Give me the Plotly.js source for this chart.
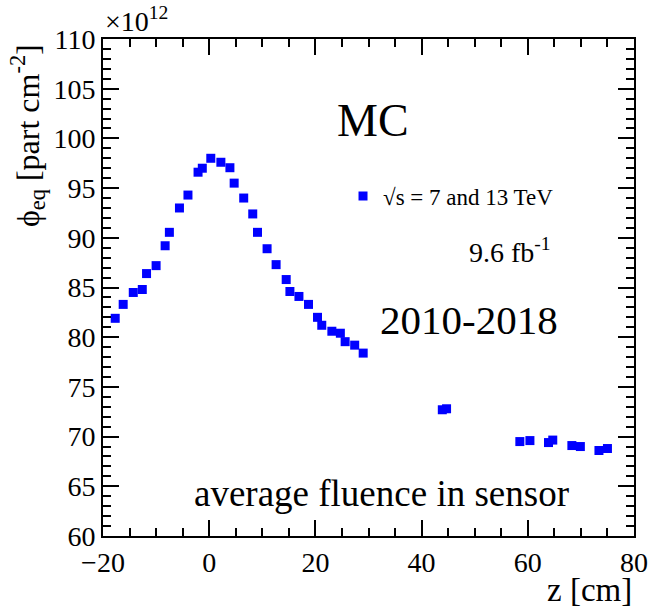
<!DOCTYPE html>
<html>
<head>
<meta charset="utf-8">
<script src="https://cdn.plot.ly/plotly-3.0.1.min.js"></script>
<style>html,body{margin:0;padding:0;background:#fff;}#chart{width:648px;height:609px;}</style>
</head>
<body>
<div id="chart"></div>
<script>
// z position [cm]
const zPos = [-17.7, -16.2, -14.3, -12.6, -11.8, -10.0, -8.3, -7.5, -5.6, -4.0, -2.1, -1.3, 0.3, 2.2, 3.9, 4.7, 6.5, 8.2, 9.1, 10.9, 12.6, 14.5, 15.2, 16.9, 18.7, 20.4, 21.2, 23.1, 24.7, 25.6, 27.4, 29.0, 43.9, 44.7, 58.5, 60.4, 63.9, 64.7, 68.3, 69.9, 73.4, 75.0];
// phi_eq [x10^12 part cm^-2]
const phiEq = [81.9, 83.3, 84.5, 84.8, 86.4, 87.2, 89.2, 90.55, 93.0, 94.3, 96.6, 97.0, 98.0, 97.6, 97.05, 95.5, 94.0, 92.4, 90.55, 88.9, 87.3, 85.8, 84.6, 84.1, 83.3, 82.0, 81.2, 80.6, 80.4, 79.55, 79.2, 78.4, 72.7, 72.8, 69.5, 69.6, 69.4, 69.65, 69.1, 69.0, 68.6, 68.8];
const seriesName = "√s = 7 and 13 TeV";
const xTickVals = [-20, 0, 20, 40, 60, 80];
const xTickText = ["\u221220", "0", "20", "40", "60", "80"];
const yTickVals = [60, 65, 70, 75, 80, 85, 90, 95, 100, 105, 110];

const serif = "Liberation Serif";

const trace = {
  x: zPos, y: phiEq, type: "scatter", mode: "markers", name: seriesName,
  marker: {symbol: "square", size: 9, color: "#0000ff"},
  showlegend: true
};

const axisCommon = {
  showline: true, linewidth: 2, linecolor: "#000", mirror: "allticks",
  ticks: "inside", tickwidth: 2, tickcolor: "#000",
  showgrid: false, zeroline: false,
  tickfont: {family: serif, size: 28, color: "#000"}
};

function ann(text, x, y, size, extra) {
  return Object.assign({text: text, xref: "paper", yref: "paper", x: x, y: y,
    xanchor: "center", yanchor: "middle", showarrow: false,
    font: {family: serif, size: size, color: "#000"}}, extra || {});
}

const layout = {
  width: 648, height: 609,
  font: {family: serif, color: "#000"},
  margin: {l: 103, r: 14, t: 39, b: 73},
  paper_bgcolor: "#fff", plot_bgcolor: "#fff",
  xaxis: Object.assign({}, axisCommon, {
    range: [-20, 80], tickvals: xTickVals, ticktext: xTickText, ticklen: 16,
    minor: {dtick: 5, ticklen: 8, ticks: "inside", tickcolor: "#000", tickwidth: 2}
  }),
  yaxis: Object.assign({}, axisCommon, {
    range: [60, 110], tickvals: yTickVals, ticklen: 16,
    minor: {dtick: 1, ticklen: 8, ticks: "inside", tickcolor: "#000", tickwidth: 2}
  }),
  legend: {
    x: 0.452, y: 0.684, xanchor: "left", yanchor: "middle",
    bgcolor: "rgba(0,0,0,0)", font: {family: serif, size: 23, color: "#000"}
  },
  annotations: [
    ann("MC", 0.508, 0.837, 46),
    ann("9.6 fb<sup>-1</sup>", 0.766, 0.575, 28),
    ann("2010-2018", 0.689, 0.435, 41),
    ann("average fluence in sensor", 0.525, 0.0865, 37),
    ann("×10<sup>12</sup>", 0, 1.0, 28, {xanchor: "left", yanchor: "bottom"}),
    ann("z [cm]", 1.0, -0.109, 33, {xanchor: "right"}),
    ann("ϕ<sub>eq</sub> [part cm<sup>-2</sup>]", -0.141, 0.805, 32, {textangle: -90})
  ]
};

Plotly.newPlot("chart", [trace], layout, {displayModeBar: false, staticPlot: true});
</script>
</body>
</html>
